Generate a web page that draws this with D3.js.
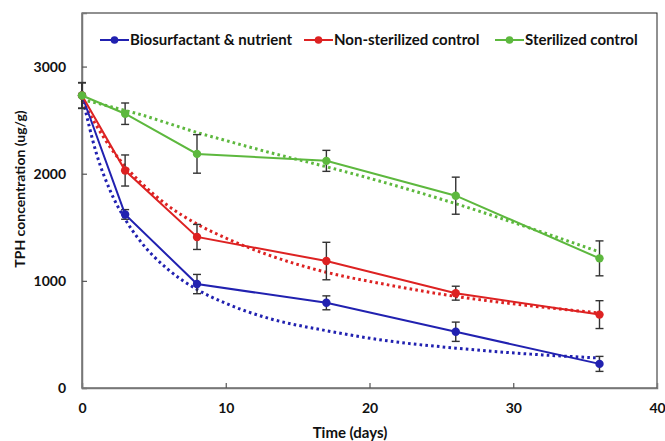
<!DOCTYPE html>
<html><head><meta charset="utf-8">
<script src="https://cdn.jsdelivr.net/npm/d3@7"></script>
<style>body{margin:0;background:#fff}svg{display:block}text{font-family:Lato,"Open Sans",sans-serif;font-weight:bold}</style>
</head><body><svg id="c" width="665" height="441"></svg>
<script>
const days = [0, 3, 8, 17, 26, 36];
const seriesNames = ["Biosurfactant & nutrient", "Non-sterilized control", "Sterilized control"];
const seriesColors = ["#2121b0", "#dd2222", "#5db83e"];
const bioValues = [2730, 1620, 970, 795, 525, 225];
const nonSterValues = [2730, 2030, 1410, 1185, 885, 685];
const sterValues = [2730, 2560, 2185, 2120, 1795, 1210];
const bioErr = [120, 45, 90, 65, 90, 70];
const nonSterErr = [120, 145, 117, 175, 65, 130];
const sterErr = [120, 100, 180, 98, 173, 163];
const trendDays = [0, 1, 2, 3, 4, 6, 8, 10, 13, 17, 21, 26, 31, 36];
const bioTrend = [2730, 2190, 1830, 1575, 1380, 1105, 920, 790, 650, 535, 445, 372, 318, 280];
const nonSterTrend = [2680, 2450, 2240, 2070, 1930, 1700, 1530, 1400, 1240, 1080, 970, 855, 770, 700];
const sterTrend = [2690, 2660, 2625, 2590, 2555, 2470, 2385, 2310, 2200, 2065, 1920, 1720, 1500, 1270];
const xTicks = [0, 10, 20, 30, 40];
const yTicks = [0, 1000, 2000, 3000];

const values = [bioValues, nonSterValues, sterValues];
const errs = [bioErr, nonSterErr, sterErr];
const trends = [bioTrend, nonSterTrend, sterTrend];

const svg = d3.select("#c");
const L = 82, R = 657, T = 13, B = 388;
const x = d3.scaleLinear().domain([0, 40]).range([L, R]);
const y = d3.scaleLinear().domain([0, 3500]).range([B, T]);

// frame
svg.append("rect").attr("x", L).attr("y", T).attr("width", R - L).attr("height", B - T)
  .attr("fill", "none").attr("stroke", "#222").attr("stroke-width", 1);

// axes
const ya = svg.append("g").attr("transform", `translate(${L},0)`)
  .call(d3.axisLeft(y).tickValues(yTicks).tickSize(-5).tickPadding(16).tickFormat(d3.format("d")));
const xa = svg.append("g").attr("transform", `translate(0,${B})`)
  .call(d3.axisBottom(x).tickValues(xTicks).tickSize(-5).tickPadding(15).tickFormat(d3.format("d")));
[ya, xa].forEach(g => {
  g.select(".domain").attr("stroke", "#777").attr("stroke-width", 1.5);
  g.selectAll(".tick line").attr("stroke", "#555").attr("stroke-width", 1.2);
  g.selectAll("text").attr("fill", "#111").style("font-size", "14px").style("font-family", "Lato, sans-serif").style("font-weight", "bold");
});
xa.selectAll(".tick").filter(d => d === 0 || d === 40).select("line").remove();
ya.selectAll(".tick").filter(d => d === 0).select("line").remove();

svg.append("text").attr("x", 350).attr("y", 438).attr("text-anchor", "middle")
  .style("font-size", "15px").attr("fill", "#111").text("Time (days)");
svg.append("text").attr("transform", `translate(25,189) rotate(-90)`)
  .attr("text-anchor", "middle").style("font-size", "14px").attr("fill", "#111").text("TPH concentration (ug/g)");

// trend lines (dotted)
const tl = d3.line().x((d, i) => x(trendDays[i])).y(d => y(d)).curve(d3.curveMonotoneX);
trends.forEach((t, k) => {
  svg.append("path").attr("d", tl(t)).attr("fill", "none").attr("stroke", seriesColors[k])
    .attr("stroke-width", 3).attr("stroke-dasharray", "2.6,3.2");
});

// error bars
errs.forEach((e, k) => {
  const g = svg.append("g").attr("stroke", "#333").attr("stroke-width", 1.4);
  days.forEach((d, i) => {
    const v = values[k][i], hi = y(v + e[i]), lo = y(v - e[i]), cx = x(d);
    g.append("line").attr("x1", cx).attr("x2", cx).attr("y1", hi).attr("y2", lo);
    g.append("line").attr("x1", cx - 4).attr("x2", cx + 4).attr("y1", hi).attr("y2", hi);
    g.append("line").attr("x1", cx - 4).attr("x2", cx + 4).attr("y1", lo).attr("y2", lo);
  });
});

// series lines and markers
const ln = d3.line().x((d, i) => x(days[i])).y(d => y(d));
values.forEach((v, k) => {
  svg.append("path").attr("d", ln(v)).attr("fill", "none").attr("stroke", seriesColors[k]).attr("stroke-width", 2);
  svg.selectAll(null).data(v).enter().append("circle")
    .attr("cx", (d, i) => x(days[i])).attr("cy", d => y(d)).attr("r", 4.2).attr("fill", seriesColors[k]);
});

// legend
const legX = [100, 304, 495];
seriesNames.forEach((n, k) => {
  const g = svg.append("g").attr("transform", `translate(${legX[k]},40)`);
  g.append("line").attr("x1", 0).attr("x2", 29).attr("stroke", seriesColors[k]).attr("stroke-width", 2);
  g.append("circle").attr("cx", 14.5).attr("r", 3.8).attr("fill", seriesColors[k]);
  g.append("text").attr("x", 30).attr("y", 5).style("font-size", "15px").attr("fill", "#111").text(n);
});
</script></body></html>
